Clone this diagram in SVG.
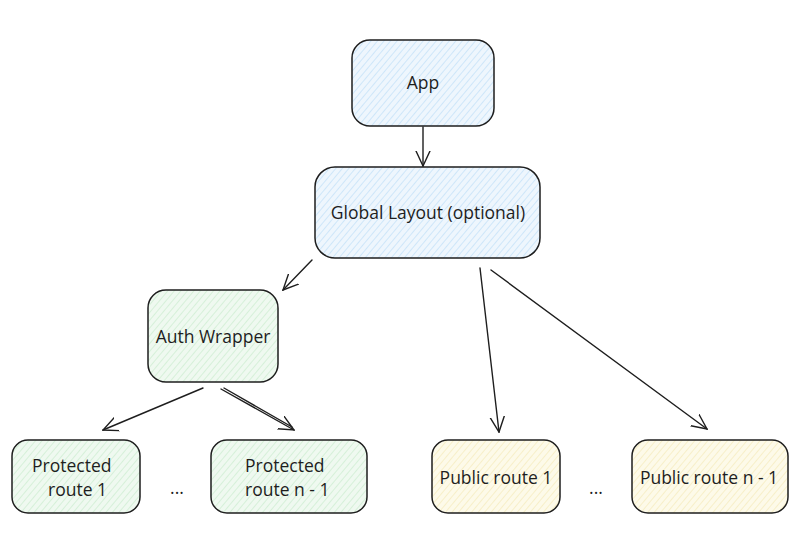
<svg xmlns="http://www.w3.org/2000/svg" width="800" height="549" viewBox="0 0 800 549">
  <defs>
    <pattern id="hBlue" width="5" height="5" patternUnits="userSpaceOnUse" patternTransform="rotate(40)">
      <rect width="5" height="5" fill="#eef6fd"/>
      <line x1="0" y1="0" x2="0" y2="5" stroke="#b9dcf7" stroke-width="1.2"/>
    </pattern>
    <pattern id="hGreen" width="5" height="5" patternUnits="userSpaceOnUse" patternTransform="rotate(40)">
      <rect width="5" height="5" fill="#eff9f0"/>
      <line x1="0" y1="0" x2="0" y2="5" stroke="#c6ebca" stroke-width="1.2"/>
    </pattern>
    <pattern id="hYellow" width="5" height="5" patternUnits="userSpaceOnUse" patternTransform="rotate(40)">
      <rect width="5" height="5" fill="#fdfae9"/>
      <line x1="0" y1="0" x2="0" y2="5" stroke="#f3e9b3" stroke-width="1.2"/>
    </pattern>
    <marker id="arr" viewBox="0 0 16 16" refX="15" refY="8" markerWidth="16" markerHeight="16" markerUnits="userSpaceOnUse" orient="auto">
      <path d="M0,1 L15,8 L0,15" fill="none" stroke="#1e1e1e" stroke-width="1.4" stroke-linecap="round"/>
    </marker>
  </defs>
  <style>
    .box { stroke: #1e1e1e; stroke-width: 1.5; }
    .blue { fill: url(#hBlue); }
    .green { fill: url(#hGreen); }
    .yellow { fill: url(#hYellow); }
    .t { font-family: "Open Sans", "Liberation Sans", sans-serif; font-size: 17.5px; fill: #1e1e1e; }
    .c { text-anchor: middle; }
    .edge { stroke: #1e1e1e; stroke-width: 1.4; fill: none; stroke-linecap: round; }
  </style>
  <rect width="800" height="549" fill="#ffffff"/>

  <g id="app">
    <rect class="box blue" x="352" y="40" width="142" height="86" rx="18"/>
    <text class="t c" x="423" y="89">App</text>
  </g>
  <g id="global-layout">
    <rect class="box blue" x="315" y="167" width="225" height="91" rx="20"/>
    <text class="t c" x="428" y="219">Global Layout (optional)</text>
  </g>
  <g id="auth-wrapper">
    <rect class="box green" x="148" y="290" width="130" height="92" rx="18"/>
    <text class="t c" x="213" y="343">Auth Wrapper</text>
  </g>
  <g id="protected-1">
    <rect class="box green" x="12" y="440" width="128" height="73" rx="16"/>
    <text class="t" x="32" y="472">Protected</text>
    <text class="t" x="48" y="496">route 1</text>
  </g>
  <g id="protected-n">
    <rect class="box green" x="211" y="440" width="156" height="73" rx="16"/>
    <text class="t" x="245" y="472">Protected</text>
    <text class="t" x="245" y="496">route n - 1</text>
  </g>
  <g id="public-1">
    <rect class="box yellow" x="432" y="440" width="128" height="73" rx="16"/>
    <text class="t c" x="496" y="484">Public route 1</text>
  </g>
  <g id="public-n">
    <rect class="box yellow" x="632" y="440" width="156" height="73" rx="16"/>
    <text class="t c" x="709" y="484">Public route n - 1</text>
  </g>
  <g id="ellipses">
    <text class="t c" x="177" y="494">...</text>
    <text class="t c" x="596" y="494">...</text>
  </g>

  <g id="connectors">
    <line class="edge" x1="423" y1="127" x2="423" y2="166" marker-end="url(#arr)"/>
    <line class="edge" x1="312" y1="260" x2="283" y2="290" marker-end="url(#arr)"/>
    <line class="edge" x1="203" y1="388" x2="103" y2="430" marker-end="url(#arr)"/>
    <line class="edge" x1="221" y1="389" x2="294" y2="430" marker-end="url(#arr)"/>
    <line class="edge" x1="224" y1="388" x2="292" y2="427"/>
    <line class="edge" x1="480" y1="268" x2="499" y2="432" marker-end="url(#arr)"/>
    <line class="edge" x1="491" y1="270" x2="707" y2="429" marker-end="url(#arr)"/>
  </g>
</svg>
